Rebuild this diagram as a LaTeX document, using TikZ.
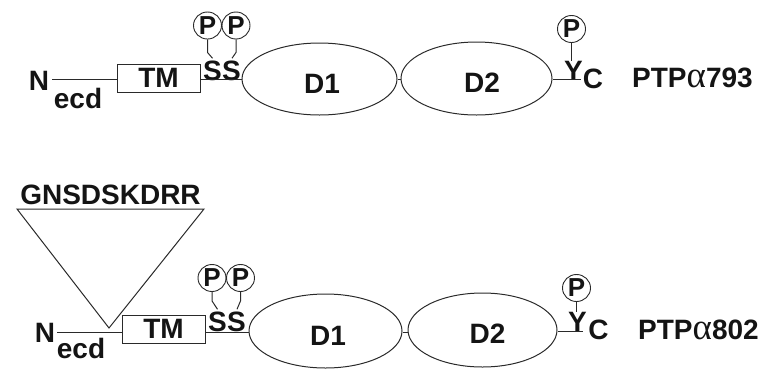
\documentclass[tikz,border=0pt]{standalone}
\usepackage{fontspec}
\setmainfont{Liberation Sans}
\newfontfamily\alphafont{Liberation Serif}
\usetikzlibrary{shapes.geometric}
\definecolor{ink}{HTML}{141414}
\definecolor{wire}{HTML}{2A2A2A}
\newcommand{\alp}{{\alphafont\mdseries\fontsize{37}{38}\selectfont α}}
\tikzset{
  lbl/.style={inner sep=0pt, text=ink, font=\fontsize{28}{30}\selectfont\bfseries, anchor=base},
  pcirc/.style={draw=wire, line width=0.9pt, ellipse, minimum width=28pt, minimum height=27pt, inner sep=0pt, text=ink, font=\fontsize{26}{28}\selectfont\bfseries},
  dom/.style={draw=wire, line width=1pt, ellipse, inner sep=0pt},
  tmbox/.style={draw=wire, line width=1pt, rectangle, minimum width=83pt, minimum height=28pt, inner sep=0pt, text=ink, font=\fontsize{28}{30}\selectfont\bfseries},
  wireln/.style={draw=wire, line width=1pt},
}
\begin{document}
\begin{tikzpicture}[x=1pt,y=-1pt]
\useasboundingbox (0,0) rectangle (768,370);
% ---------- top row : PTPalpha793 ----------
\node[lbl] (n1) at (39,90) {N};
\node[lbl] (e1) at (78,108) {ecd};
\node[tmbox] (tm1) at (158.5,78) {TM};
\node[lbl] (s1a) at (212.5,80) {S};
\node[lbl] (s1b) at (231.5,80) {S};
\node[pcirc] (p1a) at (207.5,25.5) {\raisebox{-0.5pt}{P}};
\node[pcirc] (p1b) at (236,25.5) {\raisebox{-0.5pt}{P}};
\node[dom, minimum width=155pt, minimum height=72pt] (d1a) at (319.5,79) {};
\node[lbl] (d1at) at (322,93) {D1};
\node[dom, minimum width=151pt, minimum height=73pt] (d2a) at (476.5,78.5) {};
\node[lbl] (d2at) at (482,92) {D2};
\node[lbl] (y1) at (573.5,80) {Y};
\node[pcirc] (py1) at (571.5,29) {\raisebox{-0.5pt}{P}};
\node[lbl] (c1) at (593,88) {C};
\node[lbl, anchor=base west] (name1) at (632,87) {PTP\alp793};
\coordinate (l1a) at (52,79);
\coordinate (l1e) at (581,79);
\draw[wireln] (l1a) -- (l1a -| tm1.west);
\draw[wireln] (l1a -| tm1.east) -- (l1a -| d1a.west);
\draw[wireln] (l1a -| d1a.east) -- (l1a -| d2a.west);
\draw[wireln] (l1a -| d2a.east) -- (l1e);
\draw[wireln] (p1a.south) -- ++(0,13) -- ([yshift=2pt]s1a.north);
\draw[wireln] (p1b.south) -- ++(0,13) -- ([xshift=0.5pt,yshift=2pt]s1b.north);
\draw[wireln] (py1.south) -- (py1.south |- y1.north);
% ---------- bottom row : PTPalpha802 ----------
\node[lbl] (ins) at (110.5,204) {GNSDSKDRR};
\coordinate (tl) at (17,209);
\coordinate (tr) at (204,209);
\coordinate (tb) at (109,328);
\draw[wireln, line join=miter] (tl) -- (tr) -- (tb) -- cycle;
\node[lbl] (n2) at (45,342) {N};
\node[lbl] (e2) at (81,358) {ecd};
\node[tmbox] (tm2) at (163.5,329) {TM};
\node[lbl] (s2a) at (217.5,331) {S};
\node[lbl] (s2b) at (236.5,331) {S};
\node[pcirc] (p2a) at (212,278) {\raisebox{-0.5pt}{P}};
\node[pcirc] (p2b) at (240.5,278) {\raisebox{-0.5pt}{P}};
\node[dom, minimum width=153pt, minimum height=74pt] (d1b) at (325.5,331) {};
\node[lbl] (d1bt) at (328,345) {D1};
\node[dom, minimum width=149pt, minimum height=74pt] (d2b) at (482.5,330) {};
\node[lbl] (d2bt) at (487.5,343) {D2};
\node[lbl] (y2) at (577.5,331) {Y};
\node[pcirc] (py2) at (576.5,288) {\raisebox{-0.5pt}{P}};
\node[lbl] (c2) at (598.5,339) {C};
\node[lbl, anchor=base west] (name2) at (638,339) {PTP\alp802};
\coordinate (l2a) at (57,332);
\coordinate (l2e) at (583,331);
\draw[wireln] (l2a) -- (l2a -| tm2.west);
\draw[wireln] (l2a -| tm2.east) -- (l2a -| d1b.west);
\draw[wireln] (l2a -| d1b.east) -- (l2a -| d2b.west);
\draw[wireln] (l2e -| d2b.east) -- (l2e);
\draw[wireln] (p2a.south) -- ++(0,9) -- ([yshift=2pt]s2a.north);
\draw[wireln] (p2b.south) -- ++(0,9) -- ([xshift=0.5pt,yshift=2pt]s2b.north);
\draw[wireln] (py2.south) -- (py2.south |- y2.north);
\end{tikzpicture}
\end{document}
